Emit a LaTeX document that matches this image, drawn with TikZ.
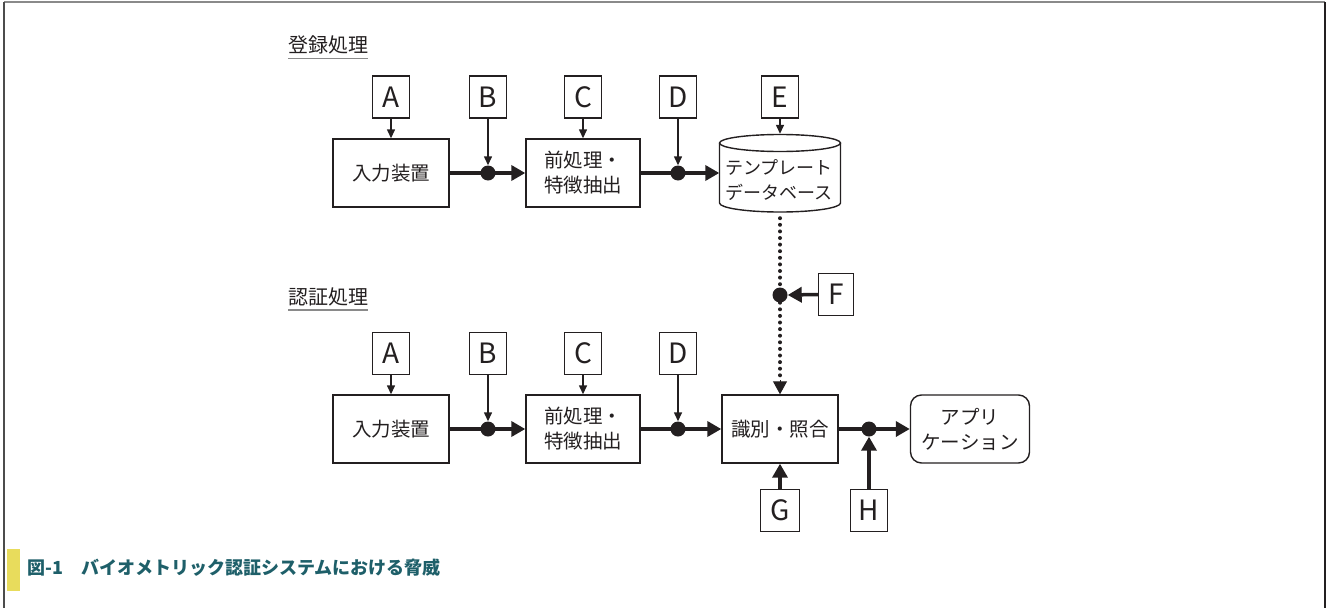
\documentclass[tikz,border=0pt]{standalone}
\usepackage{fontspec}
\setmainfont{Noto Sans CJK JP}
\usetikzlibrary{arrows.meta}
\definecolor{capteal}{HTML}{1E5F69}
\definecolor{capyellow}{HTML}{E8DC5C}
\definecolor{framegray}{HTML}{8A8A8A}
\definecolor{ink}{HTML}{231F20}
\tikzset{
 proc/.style={draw=ink, line width=1.4pt, minimum width=116pt, minimum height=68pt, inner sep=0pt, font=\fontsize{19.5}{25}\selectfont, align=center, text=ink},
 lbl/.style={draw=ink, line width=1.4pt, minimum width=37pt, minimum height=42pt, inner sep=0pt, font=\fontsize{28}{30}\selectfont, text=ink},
 junc/.style={circle, fill=ink, minimum size=15pt, inner sep=0pt},
 thinarr/.style={line width=1.4pt, draw=ink, -{Triangle[length=9pt,width=8pt]}},
 thickarr/.style={line width=3.5pt, draw=ink, -{Triangle[length=14pt,width=15pt]}},
 thickline/.style={line width=3.5pt, draw=ink},
 dotline/.style={line width=4pt, line cap=round, dash pattern=on 0pt off 6.6pt, draw=ink},
 head/.style={inner sep=0pt, font=\fontsize{20}{20}\selectfont, text=ink, anchor=base west},
}
\begin{document}
\begin{tikzpicture}[x=1pt,y=-1pt]
\useasboundingbox (0,0) rectangle (1327,608);
% frame
\draw[framegray, line width=1.5pt] (4,2) -- (1325,2);
\draw[black!70, line width=1.5pt] (4,2) -- (4,608);
\draw[ink, line width=1.8pt] (1325,2) -- (1325,608);

% headings
\node[head] (h1) at (288,52.5) {登録処理};
\draw[framegray, line width=1.5pt] ([yshift=-6pt]h1.base west) -- ([yshift=-6pt]h1.base east);
\node[head] (h2) at (288,304) {認証処理};
\draw[framegray, line width=1.5pt] ([yshift=-6pt]h2.base west) -- ([yshift=-6pt]h2.base east);

% ---- top row
\node[proc] (in1) at (391,173) {入力装置};
\node[proc, minimum width=114pt] (pre1) at (583,173) {前処理・\\特徴抽出};
\node[minimum width=121pt, minimum height=78pt, inner sep=0pt] (db) at (780,173) {};
\draw[ink, line width=1.4pt] (719.5,143) -- (719.5,203) arc[start angle=180, end angle=360, x radius=60.5pt, y radius=9pt] -- (840.5,143);
\draw[ink, line width=1.4pt] (780,143) ellipse [x radius=60.5pt, y radius=8.5pt];
\node[inner sep=0pt, font=\fontsize{18}{25}\selectfont, align=center, text=ink] (dbt) at (779,180) {テンプレート\\データベース};

\node[lbl] (A1) at (391,97) {A};
\node[lbl] (B1) at (488,97) {B};
\node[lbl] (C1) at (583,97) {C};
\node[lbl] (D1) at (678,97) {D};
\node[lbl] (E1) at (780,97) {E};
\node[junc] (jb1) at (488,173) {};
\node[junc] (jd1) at (678,173) {};

\draw[thinarr] (A1.south) -- (in1.north);
\draw[thinarr] (B1.south) -- (jb1.north);
\draw[thinarr] (C1.south) -- (pre1.north);
\draw[thinarr] (D1.south) -- (jd1.north);
\draw[thinarr] (E1.south) -- (db.north);
\draw[thickline] (in1.east) -- (jb1.center);
\draw[thickarr] (jb1.center) -- (pre1.west);
\draw[thickline] (pre1.east) -- (jd1.center);
\draw[thickarr] (jd1.center) -- (db.west);

% ---- bottom row
\node[proc] (in2) at (391,429) {入力装置};
\node[proc, minimum width=114pt] (pre2) at (583,429) {前処理・\\特徴抽出};
\node[proc] (id) at (780,429) {識別・照合};
\node[proc, minimum width=119pt, rounded corners=11pt] (app) at (970,429) {アプリ\\ケーション};

\node[lbl] (A2) at (391,353.5) {A};
\node[lbl] (B2) at (488,353.5) {B};
\node[lbl] (C2) at (583,353.5) {C};
\node[lbl] (D2) at (678,353.5) {D};
\node[lbl, minimum width=35pt] (F) at (836,294.5) {F};
\node[lbl, minimum width=39pt] (G) at (780,510.5) {G};
\node[lbl] (H) at (869,510.5) {H};
\node[junc] (jb2) at (488,429) {};
\node[junc] (jd2) at (678,429) {};
\node[junc] (jf) at (780,295) {};
\node[junc] (jh) at (869,429) {};

\draw[thinarr] (A2.south) -- (in2.north);
\draw[thinarr] (B2.south) -- (jb2.north);
\draw[thinarr] (C2.south) -- (pre2.north);
\draw[thinarr] (D2.south) -- (jd2.north);
\draw[thickline] (in2.east) -- (jb2.center);
\draw[thickarr] (jb2.center) -- (pre2.west);
\draw[thickline] (pre2.east) -- (jd2.center);
\draw[thickarr] (jd2.center) -- (id.west);
\draw[thickline] (id.east) -- (jh.center);
\draw[thickarr] (jh.center) -- (app.west);
\draw[thickarr] (G.north) -- (id.south);
\draw[thickarr] (H.north) -- (jh.south);
\draw[thickarr] (F.west) -- (jf.east);
\draw[dotline] ([yshift=-6pt]db.south) -- (jf.north);
\draw[dotline] (jf.south) -- ([yshift=14pt]id.north);
\draw[line width=1pt, draw=ink, -{Triangle[length=13pt,width=14pt]}] ([yshift=14pt]id.north) -- (id.north);

% caption
\fill[capyellow] (7,549) rectangle (20,591);
\node[anchor=west, inner sep=0pt, font=\fontsize{18}{18}\selectfont\bfseries, text=capteal] (cap) at (27,568) {図-1　バイオメトリック認証システムにおける脅威};
\end{tikzpicture}
\end{document}
